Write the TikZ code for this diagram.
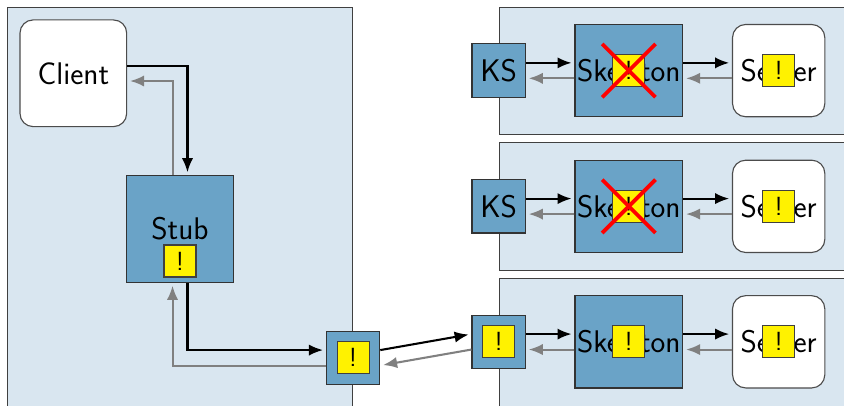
\documentclass[tikz,border=0pt]{standalone}
\usepackage{xcolor}
\usepackage{tikz}
\usetikzlibrary{arrows.meta,calc}
\definecolor{panelblue}{HTML}{D9E6F0}
\definecolor{boxblue}{HTML}{6AA3C7}
\definecolor{alertyellow}{HTML}{FFF200}
\tikzset{
	every node/.style={font=\sffamily\fontsize{16.7}{20}\selectfont,inner sep=0pt},
	panel/.style={draw=black!75,fill=panelblue,line width=0.5pt},
	bluebox/.style={draw=black!80,fill=boxblue,line width=0.6pt},
	whitebox/.style={draw=black!70,fill=white,rounded corners=7pt,line width=0.6pt},
	alertbox/.style={draw=black!75,fill=alertyellow,line width=0.6pt,minimum size=0.6cm,font=\sffamily\fontsize{14}{16}\selectfont},
	callline/.style={black,line width=1.1pt,->,shorten >=1.5pt},
	backline/.style={black!50,line width=1.1pt,->,shorten >=1.5pt},
	crossline/.style={red,line width=2pt},
	>={Latex[length=7.5pt,width=6pt]}
}
\begin{document}
\begin{tikzpicture}
	\useasboundingbox (0,0) rectangle (15.825,7.594);
	% panels
	\draw[panel] (0.131,-1) rectangle (6.6,7.463);
	\draw[panel] (9.357,5.08) rectangle (17,7.463);
	\draw[panel] (9.357,2.53) rectangle (17,4.93);
	\draw[panel] (9.357,-1) rectangle (17,2.38);
	% client side
	\node[whitebox,minimum size=2cm] (client) at (1.375,6.22) {Client};
	\node[bluebox,minimum size=2cm] (stub) at (3.375,3.3) {Stub};
	\node[alertbox] (stubalert) at ([yshift=-0.6cm]stub.center) {!};
	\node[bluebox,minimum size=1cm] (proxy) at (6.62,0.885) {};
	\node[alertbox] (proxyalert) at (proxy.center) {!};
	% server side, top row
	\node[bluebox,minimum size=1cm] (ksa) at (9.35,6.27) {KS};
	\node[bluebox,minimum width=2.02cm,minimum height=1.73cm] (skela) at (11.79,6.27) {Skeleton};
	\node[alertbox] (skelalerta) at (skela.center) {!};
	\node[whitebox,minimum size=1.73cm] (servera) at (14.6,6.27) {Server};
	\node[alertbox] (serveralerta) at (servera.center) {!};
	% middle row
	\node[bluebox,minimum size=1cm] (ksb) at (9.35,3.725) {KS};
	\node[bluebox,minimum width=2.02cm,minimum height=1.73cm] (skelb) at (11.79,3.725) {Skeleton};
	\node[alertbox] (skelalertb) at (skelb.center) {!};
	\node[whitebox,minimum size=1.73cm] (serverb) at (14.6,3.725) {Server};
	\node[alertbox] (serveralertb) at (serverb.center) {!};
	% bottom row
	\node[bluebox,minimum size=1cm] (ksc) at (9.35,1.185) {};
	\node[alertbox] (ksalertc) at (ksc.center) {!};
	\node[bluebox,minimum width=2.02cm,minimum height=1.73cm] (skelc) at (11.79,1.185) {Skeleton};
	\node[alertbox] (skelalertc) at (skelc.center) {!};
	\node[whitebox,minimum size=1.73cm] (serverc) at (14.6,1.185) {Server};
	\node[alertbox] (serveralertc) at (serverc.center) {!};
	% crosses
	\draw[crossline] ([shift={(-0.5,0.5)}]skelalerta.center) -- ([shift={(0.5,-0.5)}]skelalerta.center);
	\draw[crossline] ([shift={(-0.5,-0.5)}]skelalerta.center) -- ([shift={(0.5,0.5)}]skelalerta.center);
	\draw[crossline] ([shift={(-0.5,0.5)}]skelalertb.center) -- ([shift={(0.5,-0.5)}]skelalertb.center);
	\draw[crossline] ([shift={(-0.5,-0.5)}]skelalertb.center) -- ([shift={(0.5,0.5)}]skelalertb.center);
	% client connectors
	\draw[callline] ([yshift=0.145cm]client.east) -| ([xshift=0.14cm]stub.north);
	\draw[backline] ([xshift=-0.14cm]stub.north) |- ([yshift=-0.145cm]client.east);
	\draw[callline] ([xshift=0.14cm]stub.south) |- ([yshift=0.145cm]proxy.west);
	\draw[backline] ([yshift=-0.145cm]proxy.west) -| ([xshift=-0.14cm]stub.south);
	\draw[callline] ([yshift=0.145cm]proxy.east) -- ([yshift=0.145cm]ksc.west);
	\draw[backline] ([yshift=-0.145cm]ksc.west) -- ([yshift=-0.145cm]proxy.east);
	% row connectors
	\draw[callline] ([yshift=0.145cm]ksa.east) -- ([yshift=0.145cm]skela.west);
	\draw[backline] ([yshift=-0.145cm]skela.west) -- ([yshift=-0.145cm]ksa.east);
	\draw[callline] ([yshift=0.145cm]skela.east) -- ([yshift=0.145cm]servera.west);
	\draw[backline] ([yshift=-0.145cm]servera.west) -- ([yshift=-0.145cm]skela.east);
	\draw[callline] ([yshift=0.145cm]ksb.east) -- ([yshift=0.145cm]skelb.west);
	\draw[backline] ([yshift=-0.145cm]skelb.west) -- ([yshift=-0.145cm]ksb.east);
	\draw[callline] ([yshift=0.145cm]skelb.east) -- ([yshift=0.145cm]serverb.west);
	\draw[backline] ([yshift=-0.145cm]serverb.west) -- ([yshift=-0.145cm]skelb.east);
	\draw[callline] ([yshift=0.145cm]ksc.east) -- ([yshift=0.145cm]skelc.west);
	\draw[backline] ([yshift=-0.145cm]skelc.west) -- ([yshift=-0.145cm]ksc.east);
	\draw[callline] ([yshift=0.145cm]skelc.east) -- ([yshift=0.145cm]serverc.west);
	\draw[backline] ([yshift=-0.145cm]serverc.west) -- ([yshift=-0.145cm]skelc.east);
\end{tikzpicture}
\end{document}
